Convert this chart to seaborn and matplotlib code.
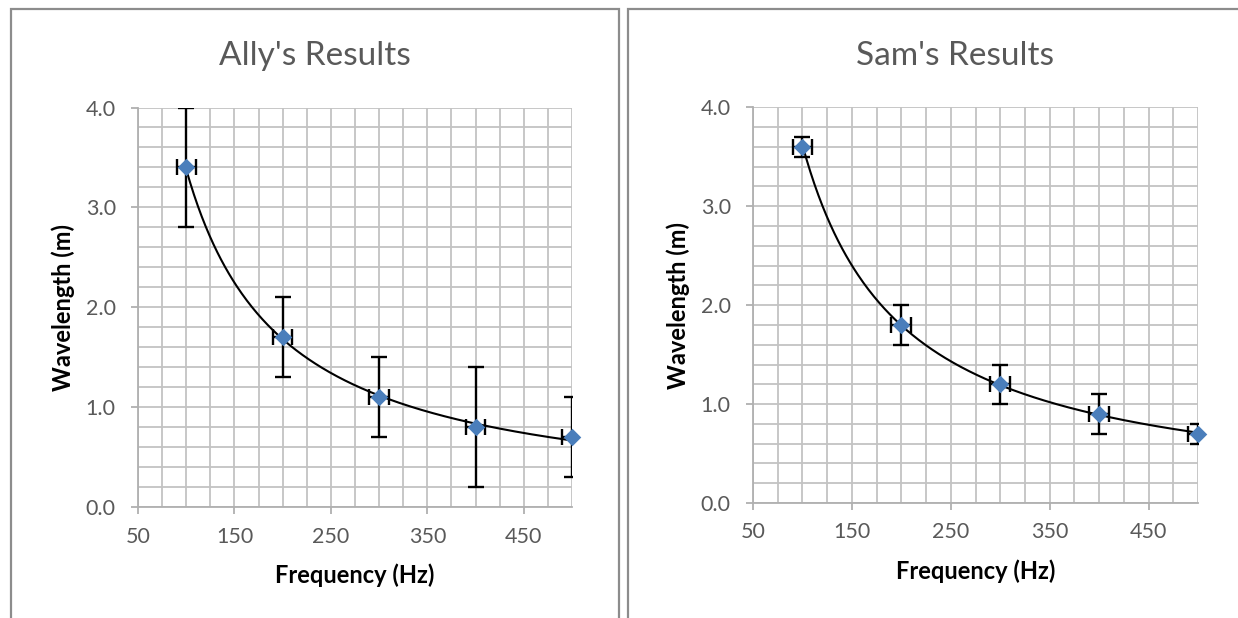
import numpy as np
import pandas as pd
import seaborn as sns
import matplotlib.pyplot as plt
from matplotlib.patches import Rectangle
from matplotlib.ticker import MultipleLocator

sns.set_theme(style="white")
plt.rcParams['font.family'] = ['Lato', 'DejaVu Sans']

frequency = [100, 200, 300, 400, 500]
freq_err = [10, 10, 10, 10, 10]
ally_wavelength = [3.4, 1.7, 1.1, 0.8, 0.7]
ally_err = [0.6, 0.4, 0.4, 0.6, 0.4]
sam_wavelength = [3.6, 1.8, 1.2, 0.9, 0.7]
sam_err = [0.1, 0.2, 0.2, 0.2, 0.1]
titles = ["Ally's Results", "Sam's Results"]
x_ticks = [50, 150, 250, 350, 450]
y_ticks = [0.0, 1.0, 2.0, 3.0, 4.0]

GRID = '#c3c3c3'
TICKC = '#595959'
BLUE = '#4a7ebb'

fig = plt.figure(figsize=(12.38, 6.18), dpi=100)

# panel borders
for (x0, x1) in [(11, 619), (628, 1250)]:
    fig.patches.append(Rectangle((x0 / 1238, -0.05), (x1 - x0) / 1238, 1 - 9 / 618 + 0.05,
                                 transform=fig.transFigure, fill=False,
                                 edgecolor='#8c8c8c', linewidth=1.6, zorder=0))

axes_pos = [
    [138 / 1238, 1 - 507.3 / 618, 434 / 1238, 399.8 / 618],
    [753 / 1238, 1 - 503 / 618, 445 / 1238, 395.7 / 618],
]
series = [(ally_wavelength, ally_err), (sam_wavelength, sam_err)]
title_x = [315 / 1238, 955 / 1238]

for pos, (wl, err), title, tx in zip(axes_pos, series, titles, title_x):
    ax = fig.add_axes(pos)
    df = pd.DataFrame({'Frequency (Hz)': frequency, 'Wavelength (m)': wl})

    # power trendline (log-log least squares, as Excel does)
    b, loga = np.polyfit(np.log(frequency), np.log(wl), 1)
    xs = np.linspace(min(frequency), max(frequency), 300)
    trend = pd.DataFrame({'x': xs, 'y': np.exp(loga) * xs ** b})
    sns.lineplot(data=trend, x='x', y='y', ax=ax, color='black', linewidth=1.5, zorder=3)

    ax.errorbar(frequency, wl, yerr=err, xerr=freq_err, fmt='none', ecolor='black',
                elinewidth=1.7, capsize=6, capthick=1.7, zorder=4)
    sns.scatterplot(data=df, x='Frequency (Hz)', y='Wavelength (m)', ax=ax, marker='D',
                    s=80, color=BLUE, edgecolor=BLUE, linewidth=0, zorder=5, clip_on=False)

    ax.set_xlim(50, 500)
    ax.set_ylim(0, 4)
    ax.set_xticks(x_ticks)
    ax.set_yticks(y_ticks)
    ax.set_yticklabels([f"{v:.1f}" for v in y_ticks])
    ax.xaxis.set_minor_locator(MultipleLocator(25))
    ax.yaxis.set_minor_locator(MultipleLocator(0.2))
    ax.grid(True, which='both', color=GRID, linewidth=1.3)
    ax.set_axisbelow(True)
    for s in ['top', 'right']:
        ax.spines[s].set_visible(False)
    for s in ['left', 'bottom']:
        ax.spines[s].set_color('#b0b0b0')
        ax.spines[s].set_linewidth(1.3)
    ax.tick_params(axis='both', which='major', direction='out', length=5, width=1.3,
                   color='#b0b0b0', labelcolor=TICKC, labelsize=15.5,
                   bottom=True, left=True)
    ax.tick_params(axis='x', which='major', pad=9)
    ax.tick_params(axis='y', which='major', pad=11)
    ax.tick_params(axis='both', which='minor', length=0)
    ax.set_xlabel('Frequency (Hz)', fontsize=17, fontweight='bold', color='black', labelpad=12)
    ax.set_ylabel('Wavelength (m)', fontsize=17, fontweight='bold', color='black', labelpad=8)
    fig.text(tx, 1 - 56 / 618, title, ha='center', va='center', fontsize=24, color=TICKC)

fig.savefig('out.png', dpi=100)
